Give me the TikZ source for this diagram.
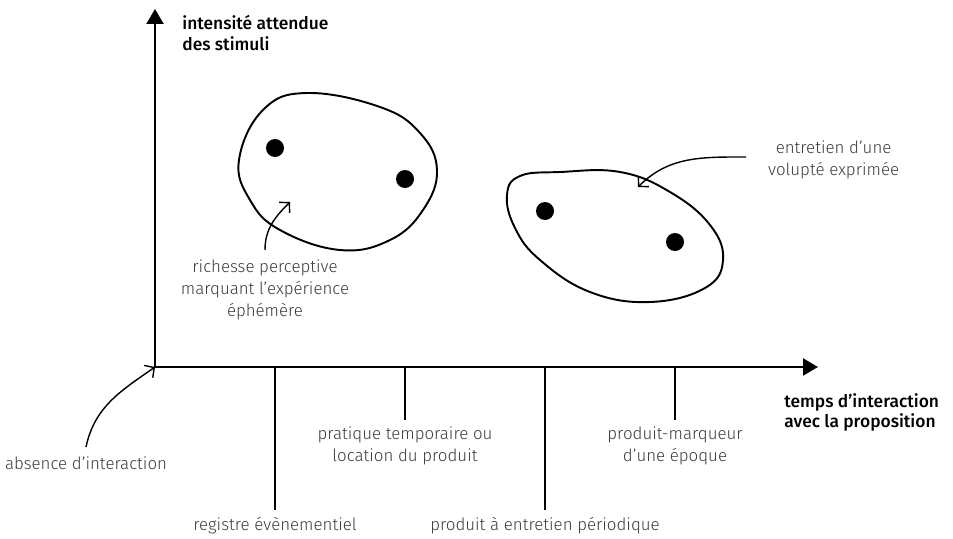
\documentclass[tikz,border=0pt]{standalone}
\usepackage{fontspec}
\setmainfont{Fira Sans Light}[BoldFont=Fira Sans Medium]
\usepackage{tikz,xcolor}
\usetikzlibrary{arrows.meta,positioning,calc}
\definecolor{textgray}{RGB}{60,60,60}

\begin{document}
\begin{tikzpicture}[
  axe/.style={line width=1.3pt,-{Triangle[length=0.3cm,width=0.34cm]}},
  tick/.style={line width=0.6pt},
  blob/.style={line width=1.1pt},
  pointer/.style={line width=0.8pt,-{Straight Barb[length=1.4mm,width=3mm]}},
  lbl/.style={text=textgray,font=\fontsize{9.6}{12.5}\selectfont,align=center,inner sep=1pt},
  axlbl/.style={font=\bfseries\fontsize{9.9}{11.4}\selectfont,align=left,anchor=west,inner sep=0pt},
  dot/.style={circle,fill=black,minimum size=0.36cm,inner sep=0pt}
]
\useasboundingbox (-3.1,-3.42) rectangle (15.96,7.34);

% axes
\coordinate (O) at (0,0);
\draw[axe] (O) -- (0,7.16) coordinate (ytip);
\draw[axe] (O) -- (13.26,0) coordinate (xtip);
\node[axlbl] (ylab) at (0.54,6.68) {intensité attendue\\des stimuli};
\node[axlbl] (xlab) at (12.58,-0.9) {temps d’interaction\\avec la proposition};

% ticks on the time axis
\foreach \n/\x/\y in {1/2.4/-2.86, 2/5.0/-1.06, 3/7.8/-2.86, 4/10.4/-1.06}
  \draw[tick] (\x,0) -- (\x,\y) coordinate (t\n);
\node[lbl,below=0.1cm of t1] (registre) {registre évènementiel};
\node[lbl,below=0.1cm of t2] (pratique) {pratique temporaire ou\\location du produit};
\node[lbl,below=0.1cm of t3] (entretien) {produit à entretien périodique};
\node[lbl,below=0.1cm of t4] (marqueur) {produit-marqueur\\d’une époque};

% dots
\node[dot] (d1) at (2.4,4.38) {};
\node[dot] (d2) at (5.0,3.76) {};
\node[dot] (d3) at (7.8,3.12) {};
\node[dot] (d4) at (10.4,2.5) {};

% blobs
\draw[blob] plot[smooth cycle, tension=0.7] coordinates {(3.04,5.48) (2.16,5.14) (1.68,4.14) (1.9,3.34) (2.5,2.74) (3.7,2.34) (4.7,2.54) (5.36,3.14) (5.64,3.94) (5.3,4.68) (4.5,5.2)};
\draw[blob] plot[smooth cycle, tension=0.7] coordinates {(7.04,3.44) (7.3,3.82) (8.1,3.9) (9.3,3.9) (10.3,3.5) (11.1,2.84) (11.36,2.14) (11.0,1.58) (9.9,1.3) (8.7,1.5) (7.7,2.14) (7.2,2.78)};

% pointers
\coordinate (a1) at (2.2,2.34);
\coordinate (a1e) at (2.7,3.3);
\draw[pointer] (a1) to[out=90,in=225] (a1e);
\node[lbl,below=0.16cm of a1] (richesse) {richesse perceptive\\marquant l’expérience\\éphémère};

\coordinate (a2) at (11.82,4.2);
\coordinate (a2e) at (9.66,3.6);
\draw[pointer] (a2) to[out=180,in=45] (a2e);
\node[lbl,right=0.4cm of a2,yshift=-0.06cm] (volupte) {entretien d’une\\volupté exprimée};

\coordinate (a3) at (-1.38,-1.6);
\draw[pointer] (a3) to[out=78,in=215] (O);
\node[lbl,below=0.15cm of a3] (absence) {absence d’interaction};

\end{tikzpicture}
\end{document}
